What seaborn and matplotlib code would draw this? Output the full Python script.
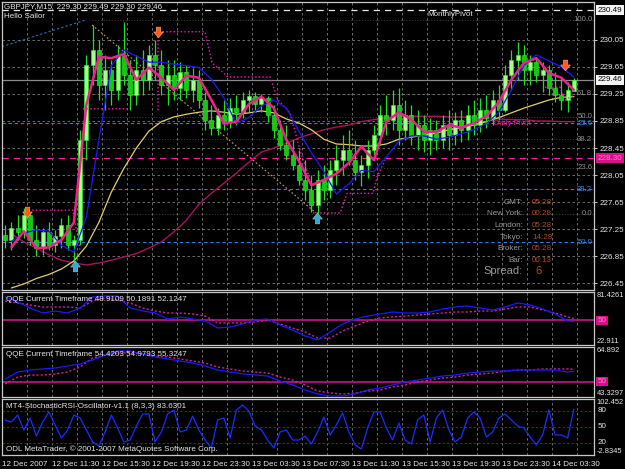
import numpy as np
import matplotlib
matplotlib.use('Agg')
import matplotlib.pyplot as plt
import matplotlib.transforms as mtransforms
from matplotlib.path import Path
import seaborn as sns

sns.set_theme(style="dark")
plt.rcParams['font.family'] = ['Liberation Sans', 'DejaVu Sans']

# ---- GBPJPY M15 (shown as 30 minute candles), hours since 12 Dec 07:30 ----
bar_open = [227.16, 227.09, 227.27, 227.21, 227.46, 227.09, 226.97, 227.21, 227.01, 227.15,
            227.31, 227.01, 227.09, 228.57, 229.68, 229.90, 229.38, 229.61, 229.31, 229.83,
            229.53, 229.24, 229.61, 229.46, 229.83, 229.68, 229.38, 229.53, 229.34, 229.58,
            229.31, 229.46, 229.16, 228.87, 228.75, 228.94, 228.84, 229.04, 228.98, 229.16,
            229.22, 229.10, 229.19, 228.94, 228.72, 228.50, 228.35, 228.20, 227.98, 227.83,
            227.61, 227.98, 227.83, 228.12, 228.27, 228.42, 228.27, 228.10, 228.20, 228.42,
            228.64, 228.94, 228.87, 229.09, 228.72, 228.94, 228.64, 228.79, 228.57, 228.72,
            228.57, 228.79, 228.64, 228.87, 228.72, 228.94, 228.79, 229.01, 228.90, 229.16,
            229.01, 229.53, 229.75, 229.83, 229.61, 229.72, 229.53, 229.61, 229.34, 229.24,
            229.16, 229.30]
bar_high = [227.31, 227.35, 227.46, 227.56, 227.50, 227.31, 227.27, 227.35, 227.24, 227.41,
            227.46, 227.16, 228.72, 229.83, 230.27, 230.05, 229.83, 229.75, 229.98, 230.32,
            229.75, 229.83, 229.90, 229.98, 230.05, 229.90, 229.75, 229.75, 229.72, 229.68,
            229.64, 229.61, 229.28, 229.09, 229.04, 229.16, 229.19, 229.24, 229.28, 229.31,
            229.28, 229.25, 229.22, 229.09, 228.87, 228.79, 228.57, 228.42, 228.27, 228.05,
            228.12, 228.20, 228.27, 228.50, 228.64, 228.72, 228.57, 228.35, 228.57, 228.79,
            229.09, 229.24, 229.31, 229.34, 229.16, 229.09, 229.01, 228.94, 228.90, 228.87,
            228.94, 229.01, 228.98, 229.01, 229.09, 229.16, 229.19, 229.24, 229.31, 229.38,
            229.68, 229.90, 230.02, 229.98, 229.83, 229.78, 229.72, 229.68, 229.58, 229.49,
            229.43, 229.49]
bar_low = [226.97, 226.94, 227.09, 227.12, 227.01, 226.85, 226.87, 226.94, 226.91, 226.97,
           226.94, 226.75, 227.01, 228.27, 229.38, 229.16, 229.01, 229.09, 229.16, 229.38,
           229.01, 229.09, 229.24, 229.31, 229.46, 229.24, 229.09, 229.16, 229.16, 229.19,
           229.13, 229.04, 228.72, 228.64, 228.64, 228.72, 228.75, 228.79, 228.90, 228.98,
           229.01, 228.98, 228.84, 228.60, 228.42, 228.27, 228.12, 227.90, 227.68, 227.50,
           227.46, 227.68, 227.71, 227.90, 228.05, 228.20, 227.98, 227.89, 228.01, 228.27,
           228.50, 228.64, 228.72, 228.50, 228.57, 228.50, 228.42, 228.39, 228.35, 228.42,
           228.45, 228.42, 228.50, 228.54, 228.57, 228.64, 228.69, 228.75, 228.79, 228.87,
           228.98, 229.31, 229.46, 229.38, 229.38, 229.43, 229.28, 229.24, 229.13, 229.01,
           228.98, 229.30]
bar_close = [227.09, 227.27, 227.21, 227.46, 227.09, 226.97, 227.21, 227.01, 227.15, 227.31,
             227.01, 227.09, 228.57, 229.68, 229.90, 229.38, 229.61, 229.31, 229.83, 229.53,
             229.24, 229.61, 229.46, 229.83, 229.68, 229.38, 229.53, 229.34, 229.58, 229.31,
             229.46, 229.16, 228.87, 228.75, 228.94, 228.84, 229.04, 228.98, 229.16, 229.22,
             229.10, 229.19, 228.94, 228.72, 228.50, 228.35, 228.20, 227.98, 227.83, 227.61,
             227.98, 227.83, 228.12, 228.27, 228.42, 228.27, 228.10, 228.20, 228.42, 228.64,
             228.94, 228.87, 229.09, 228.72, 228.94, 228.64, 228.79, 228.57, 228.72, 228.57,
             228.79, 228.64, 228.87, 228.72, 228.94, 228.79, 229.01, 228.90, 229.16, 229.01,
             229.53, 229.75, 229.83, 229.61, 229.72, 229.53, 229.61, 229.34, 229.24, 229.16,
             229.31, 229.46]

# moving averages, read every hour
ma_fast = [226.98, 227.22, 226.97, 226.98, 227.09, 227.35, 229.09, 229.80, 229.78, 229.84,
           229.46, 229.64, 229.49, 229.31, 229.52, 229.49, 229.16, 228.81, 228.84, 229.10,
           229.21, 229.04, 228.57, 228.26, 227.90, 227.98, 228.07, 228.23, 228.47, 228.27,
           228.84, 228.98, 228.87, 228.69, 228.69, 228.79, 228.75, 228.82, 228.92, 229.13,
           229.46, 229.71, 229.78, 229.56, 229.49, 229.31]
ma_slow = [227.07, 227.19, 227.24, 227.22, 227.01, 226.91, 227.43, 228.57, 229.67, 229.90,
           229.81, 229.72, 229.72, 229.69, 229.67, 229.64, 229.47, 229.19, 228.81, 228.90,
           229.07, 229.16, 229.04, 228.70, 228.38, 228.10, 227.77, 227.92, 228.12, 228.10,
           228.32, 228.55, 228.63, 228.63, 228.58, 228.61, 228.66, 228.72, 228.81, 228.98,
           229.31, 229.67, 229.83, 229.74, 229.65, 229.50]
ma_long = [226.38, 226.44, 226.52, 226.58, 226.66, 226.78, 227.00, 227.35, 227.80, 228.15,
           228.45, 228.70, 228.84, 228.91, 228.95, 228.98, 229.00, 228.98, 228.95, 228.97,
           229.00, 228.97, 228.88, 228.82, 228.72, 228.58, 228.51, 228.50, 228.48, 228.48,
           228.51, 228.58, 228.61, 228.64, 228.67, 228.72, 228.75, 228.79, 228.84, 228.90,
           228.97, 229.04, 229.10, 229.16, 229.20, 229.21]
ma_trend = [227.18, 227.06, 226.97, 226.87, 226.79, 226.75, 226.72, 226.75, 226.79, 226.84,
            226.89, 226.97, 227.06, 227.21, 227.38, 227.62, 227.78, 227.93, 228.08, 228.24,
            228.39, 228.45, 228.52, 228.60, 228.66, 228.72, 228.76, 228.79, 228.84, 228.87,
            228.90, 228.92, 228.92, 228.92, 228.92, 228.91, 228.91, 228.90, 228.90, 228.88,
            228.87, 228.87, 228.85, 228.85, 228.84, 228.84]

# dotted channel pieces (NaN = gap)
env_hours = [1.84, 5.68, 6.24, np.nan, 6.48, 10.24, np.nan,
             12.48, 12.48, 16.24, 16.8, 18.08, 21.44, 22.08, 23.04, 23.84, 24.64, np.nan,
             24.88, 27.04, 27.6, 29.68, 30.0, 30.64, np.nan, 43.44, 44.64, 45.04, 45.84]
env_price = [227.53, 227.53, 226.94, np.nan, 229.03, 229.03, np.nan,
             229.01, 230.17, 230.17, 229.71, 229.50, 229.50, 229.16, 228.97, 228.42, 227.98, np.nan,
             227.49, 227.49, 227.78, 227.78, 228.02, 228.27, np.nan, 229.35, 229.35, 229.16, 229.24]

# oscillators, read every hour
qqe1_rsi = [75.91, 70.39, 63.77, 58.25, 60.45, 58.25, 63.77, 75.91, 77.01, 77.01,
            63.77, 60.45, 58.25, 51.62, 53.83, 51.62, 49.42, 41.69, 42.79, 46.10,
            50.52, 51.62, 45.00, 39.48, 32.85, 28.44, 37.27, 46.10, 51.62, 54.93,
            57.14, 59.35, 58.25, 58.25, 59.35, 62.66, 64.87, 65.97, 63.77, 61.56,
            64.87, 69.29, 67.08, 62.66, 57.14, 49.42, 48.91]
qqe1_trail = [71.49, 69.29, 67.08, 64.87, 64.87, 64.87, 63.77, 71.49, 74.81, 72.60,
              69.29, 63.77, 60.45, 58.25, 58.25, 57.14, 54.93, 47.21, 47.21, 47.21,
              48.31, 50.52, 46.10, 41.69, 37.27, 30.65, 30.65, 38.37, 43.90, 49.42,
              52.73, 53.83, 54.93, 56.04, 57.14, 58.25, 59.35, 59.35, 60.45, 60.45,
              62.66, 64.87, 64.87, 61.56, 58.25, 53.83, 52.12]
qqe2_rsi = [51.09, 54.11, 54.97, 55.41, 55.84, 56.70, 57.56, 59.29, 61.44, 63.17,
            63.17, 61.87, 60.58, 59.72, 58.86, 57.99, 56.70, 54.97, 54.11, 53.25,
            52.82, 52.39, 50.23, 48.51, 46.35, 44.62, 43.76, 43.76, 44.62, 46.35,
            47.21, 48.51, 49.80, 50.66, 51.52, 52.39, 52.82, 53.68, 54.11, 54.54,
            54.54, 54.97, 54.97, 54.97, 54.97, 54.11, 54.42]
qqe2_trail = [48.94, 51.95, 52.82, 52.82, 53.25, 54.11, 56.27, 60.15, 61.44, 62.30,
              62.30, 61.87, 61.01, 60.58, 59.72, 58.86, 57.99, 56.27, 55.41, 54.54,
              54.11, 53.68, 51.95, 50.66, 48.51, 45.92, 45.05, 44.62, 45.05, 45.92,
              46.35, 47.64, 48.51, 49.80, 50.66, 51.52, 51.95, 52.82, 53.25, 53.68,
              54.54, 54.97, 54.97, 55.41, 55.41, 55.41, 55.32]
stoch_rsi = [62.97, 59.21, 72.37, 44.17, 66.73, 32.89, 59.21, 78.01, 53.57, 29.13,
             44.17, 72.37, 66.73, 44.17, 21.61, 14.09, 40.41, 72.37, 47.93, 21.61,
             25.37, 51.69, 74.25, 74.25, 21.61, 40.41, 74.25, 81.77, 40.41, 44.17,
             70.49, 44.17, 25.37, 10.33, 62.97, 66.73, 29.13, 81.77, 91.17, 79.89,
             51.69, 44.17, 25.37, 10.33, 40.41, 44.17, 25.37, 25.37, 32.89, 17.85,
             40.41, 68.61, 34.77, 53.57, 76.13, 40.41, 15.97, 8.45, 47.93, 78.01,
             78.01, 47.93, 25.37, 57.33, 25.37, 17.85, 62.97, 72.37, 21.61, 66.73,
             81.77, 44.17, 21.61, 31.01, 66.73, 78.01, 66.73, 31.01, 40.41, 66.73,
             74.25, 62.97, 51.69, 47.93, 31.01, 15.97, 34.77, 81.77, 34.77, 34.77,
             29.13, 83.63]

# signals, pivots, fibo
sell_hours = [2.0, 12.48, 45.04]
sell_price = [227.50, 230.17, 229.68]
buy_hours = [5.84, 25.2]
buy_price = [226.70, 227.41]
monthly_pivot = 230.49
daily_pivot = 228.30
bid = 229.46
fib_levels = [0.0, 23.6, 38.2, 50.0, 61.8, 100.0]
fib_low, fib_high = 227.48, 230.35
fib_line_hours = [7.2, 25.12]
fib_line_price = [230.27, 227.49]
blue_fib_levels = [23.6, 38.2, 50.0]
blue_fib_top, blue_fib_bottom = 230.39, 223.72
blue_ray_hours = [0.0, 6.8]
blue_ray_price = [229.95, 230.35]

price_ticks = [230.05, 229.65, 229.25, 228.85, 228.45, 228.05, 227.65, 227.25, 226.85, 226.45]
label_hours = list(range(0, 48, 4))
time_labels = ['12 Dec 2007', '12 Dec 11:30', '12 Dec 15:30', '12 Dec 19:30', '12 Dec 23:30',
               '13 Dec 03:30', '13 Dec 07:30', '13 Dec 11:30', '13 Dec 15:30', '13 Dec 19:30',
               '13 Dec 23:30', '14 Dec 03:30']
info_labels = ['GMT:', 'New York:', 'London:', 'Tokyo:', 'Broker:', 'Bar:']
info_values = ['05:28', '00:28', '05:28', '14:28', '05:28', '00:13']
spread = '6'

o, h, l, c = (np.array(v) for v in (bar_open, bar_high, bar_low, bar_close))
hours = 0.25 + 0.5 * np.arange(len(c))
ma_hours = hours[1::2]
osc_hours = np.append(hours[::2], hours[-1])

# ---- layout (MetaTrader look) ----
W, H = 625, 469
fig = plt.figure(figsize=(6.25, 4.69), dpi=100, facecolor='black')


def panel(top, bottom):
    a = fig.add_axes([2 / W, 1 - bottom / H, 592 / W, (bottom - top) / H])
    a.set_facecolor('black')
    for s in a.spines.values():
        s.set_color('#c8c8c8')
        s.set_linewidth(0.9)
    a.set_xlim(0, 47.36)
    a.set_xticks([])
    a.set_yticks([])
    a.grid(False)
    for t in range(2, 48, 2):
        a.axvline(t, color='#7a7a7a', lw=0.6, ls=(0, (3, 3)), zorder=0)
    return a


ax = panel(2, 290)
ax_q1 = panel(292, 345)
ax_q2 = panel(347, 397)
ax_st = panel(399, 455)

TXT = dict(fontsize=5.8, color='#e6e6e6')
SIDE = 5.4  # right scale text

# ---- main price window ----
ax.set_ylim(226.35, 230.61)
for p in price_ticks:
    ax.axhline(p, color='#7a7a7a', lw=0.6, ls=(0, (3, 3)), zorder=0)
ax.yaxis.tick_right()
ax.set_yticks(price_ticks)
ax.set_yticklabels([f'{p:.2f}' for p in price_ticks])
ax.tick_params(axis='y', colors='#e6e6e6', labelsize=5.8, length=2, width=0.6, pad=2)

# fibo and pivots
ybox = mtransforms.blended_transform_factory(ax.transAxes, ax.transData)
for lv in fib_levels:
    fp = fib_low + (fib_high - fib_low) * lv / 100
    ax.hlines(fp, fib_line_hours[0], 47.36, color='#8a7c60', lw=0.5, ls=(0, (1.5, 2.5)),
              alpha=0.7, zorder=1)
    ax.text(0.997, fp, f'{lv:.1f}', transform=ybox, ha='right', va='center',
            fontsize=5.6, color='#8c8c8c', zorder=7)
for lv in blue_fib_levels:
    fp = blue_fib_top - (blue_fib_top - blue_fib_bottom) * lv / 100
    ax.axhline(fp, color='#2f7fe0', lw=0.8, ls=(0, (3, 2.5)), zorder=1)
    ax.text(0.997, fp, f'{lv:.1f}', transform=ybox, ha='right', va='center',
            fontsize=5.6, color='#3a86e0', zorder=7)
ax.plot(fib_line_hours, fib_line_price, color='#c0a060', lw=0.8, ls=(0, (1.5, 2)), zorder=1)
ax.plot(blue_ray_hours, blue_ray_price, color='#2f6fc0', lw=0.8, ls=(0, (2, 2)), zorder=1)
ax.axhline(monthly_pivot, color='#e8e8e8', lw=0.9, ls=(0, (5, 4)), zorder=1)
ax.axhline(daily_pivot, color='#ff1aa8', lw=0.9, ls=(0, (5, 4)), zorder=1)
ax.axhline(bid, color='#8a8a8a', lw=0.9, zorder=1)
ax.text(34.0, monthly_pivot - 0.02, 'MonthlyPivot', va='top', ha='left', zorder=7, **TXT)
ax.text(39.4, 228.81, 'Daily Pivot', va='center', ha='left', fontsize=5.6, color='#d8208c', zorder=7)

# long averages under the candles
sns.lineplot(x=ma_hours, y=ma_trend, ax=ax, color='#a8125e', lw=1.0, zorder=2)
sns.lineplot(x=ma_hours, y=ma_long, ax=ax, color='#e2cf66', lw=0.9, zorder=2)

# candles
up = c >= o
ax.vlines(hours, l, h, color='#1ee01e', lw=0.9, zorder=3)
ax.bar(hours[up], (c - o)[up], bottom=o[up], width=0.32, color='#a6ff8c',
       edgecolor='#22ff22', lw=0.4, zorder=3)
ax.bar(hours[~up], (o - c)[~up], bottom=c[~up], width=0.32, color='#14c814',
       edgecolor='#22ff22', lw=0.4, zorder=3)

ax.plot(env_hours, env_price, color='#ff10c0', lw=1.0, ls=(0, (1, 1.6)), zorder=4)
sns.lineplot(x=ma_hours, y=ma_slow, ax=ax, color='#1a1aff', lw=0.9, zorder=4)
sns.lineplot(x=ma_hours, y=ma_fast, ax=ax, color='#f0208e', lw=1.8, zorder=5)

arrow_down = Path([(-0.4, 1.0), (0.4, 1.0), (0.4, 0.1), (0.9, 0.1), (0.0, -1.0),
                   (-0.9, 0.1), (-0.4, 0.1), (-0.4, 1.0)], closed=True)
arrow_up = Path([(x, -y) for x, y in arrow_down.vertices], closed=True)
ax.scatter(sell_hours, sell_price, marker=arrow_down, s=60, color='#ff5a1e',
           edgecolors='#ffb070', linewidths=0.4, zorder=6)
ax.scatter(buy_hours, buy_price, marker=arrow_up, s=60, color='#3aa6cc',
           edgecolors='#7fd0e8', linewidths=0.4, zorder=6)

for val, fc, tc in [(monthly_pivot, '#f2f2f2', 'black'), (bid, '#f2f2f2', 'black'),
                    (daily_pivot, '#d8108c', '#ff7cc8')]:
    ax.text(1.006, val, f'{val:.2f}', transform=ybox, ha='left', va='center', fontsize=5.8,
            color=tc, clip_on=False, zorder=8,
            bbox=dict(boxstyle='square,pad=0.18', fc=fc, ec='none'))

ax.text(0.004, 0.996, 'GBPJPY,M15  229.30 229.49 229.30 229.46', transform=ax.transAxes,
        va='top', ha='left', zorder=8, **TXT)
ax.text(0.004, 0.962, 'Hello Sailor', transform=ax.transAxes, va='top', ha='left', zorder=8, **TXT)

# info block
for i, (lab, val) in enumerate(zip(info_labels, info_values)):
    y = 1 - (202 + 11.7 * i) / H
    fig.text(523 / W, y, lab, ha='right', va='center', fontsize=5.8, color='#9a9a9a')
    fig.text(532 / W, y, val, ha='left', va='center', fontsize=5.8, color='#b04a1c')
fig.text(523 / W, 1 - 271 / H, 'Spread:', ha='right', va='center', fontsize=8, color='#9a9a9a')
fig.text(535 / W, 1 - 271 / H, spread, ha='left', va='center', fontsize=8, color='#b04a1c')


# ---- sub windows ----
def side_label(a, y, s, va):
    a.text(1.004, y, s, transform=a.transAxes, ha='left', va=va, fontsize=SIDE,
           color='#e6e6e6', clip_on=False)


def box50(a):
    a.text(1.006, 50, '50', transform=mtransforms.blended_transform_factory(a.transAxes, a.transData),
           ha='left', va='center', fontsize=5.8, color='#ff7cc8', clip_on=False,
           bbox=dict(boxstyle='square,pad=0.18', fc='#d8108c', ec='none'))


for a, rsi, trail, lo, hi, title in [
        (ax_q1, qqe1_rsi, qqe1_trail, 22.911, 81.4261,
         'QQE Current Timeframe 48.9109 50.1891 52.1247'),
        (ax_q2, qqe2_rsi, qqe2_trail, 43.3297, 64.892,
         'QQE Current Timeframe 54.4203 54.9793 55.3247')]:
    a.set_ylim(lo, hi)
    a.axhline(50, color='#b8127a', lw=1.3, zorder=1)
    a.plot(osc_hours, trail, color='#d0209e', lw=1.0, ls=(0, (1.5, 1.5)), zorder=2)
    sns.lineplot(x=osc_hours, y=rsi, ax=a, color='#1a1aff', lw=0.9, zorder=3)
    a.text(0.006, 0.93, title, transform=a.transAxes, va='top', ha='left', zorder=5, **TXT)
    side_label(a, 1.0, f'{hi:g}', 'top')
    side_label(a, 0.0, f'{lo:g}', 'bottom')
    box50(a)

ax_st.set_ylim(-2.8345, 102.452)
for lv in (80, 50, 20):
    ax_st.axhline(lv, color='#8c1020', lw=0.8, ls=(0, (2, 2)), zorder=1)
    ax_st.text(1.006, lv, str(lv),
               transform=mtransforms.blended_transform_factory(ax_st.transAxes, ax_st.transData),
               ha='left', va='center', fontsize=5.8, color='#e6e6e6', clip_on=False)
sns.lineplot(x=hours, y=stoch_rsi, ax=ax_st, color='#1a2eff', lw=0.9, zorder=3)
ax_st.text(0.006, 0.93, 'MT4-StochasticRSI-Oscillator-v1.1 (8,3,3) 83.6301', transform=ax_st.transAxes,
           va='top', ha='left', zorder=5, **TXT)
ax_st.text(0.006, 0.03, 'ODL MetaTrader, \u00a9 2001-2007 MetaQuotes Software Corp.',
           transform=ax_st.transAxes, va='bottom', ha='left', zorder=5, **TXT)
side_label(ax_st, 1.0, '102.452', 'top')
side_label(ax_st, 0.0, '-2.8345', 'bottom')

ax_st.set_xticks(label_hours)
ax_st.set_xticklabels(time_labels, ha='left')
ax_st.tick_params(axis='x', colors='#e6e6e6', labelsize=5.8, length=3, width=0.6, pad=1.5,
                  direction='out')

for a in (ax, ax_q1, ax_q2, ax_st):
    a.set_xlabel('')
    a.set_ylabel('')
    a.set_xlim(0, 47.36)

fig.savefig('out.png', dpi=100, facecolor='black')
